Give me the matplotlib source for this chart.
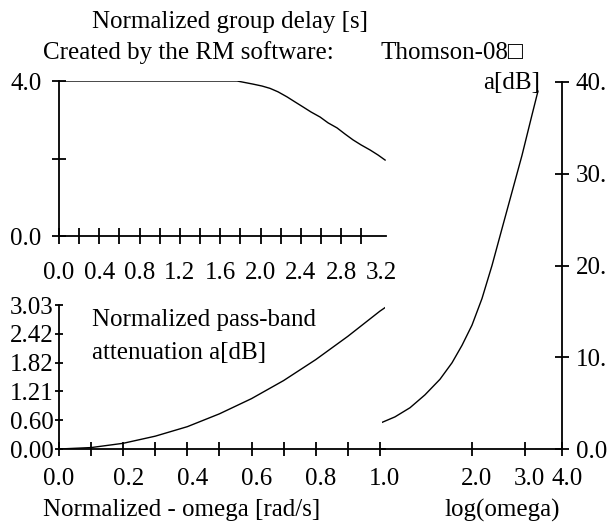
import matplotlib.pyplot as plt
import matplotlib.transforms as mtransforms
import numpy as np

plt.rcParams['font.family'] = ['Liberation Serif', 'DejaVu Sans']
plt.rcParams['font.size'] = 18

# normalized group delay (top panel)
w_delay = [0.0, 0.8, 1.6, 1.767, 1.846, 1.925, 2.015, 2.094, 2.174, 2.263, 2.342, 2.422,
           2.501, 2.591, 2.670, 2.759, 2.839, 2.918, 2.998, 3.087, 3.166, 3.236]
delay = [4.0, 4.0, 4.0, 4.0, 3.96, 3.92, 3.87, 3.81, 3.72, 3.59, 3.46, 3.33,
         3.20, 3.07, 2.92, 2.79, 2.63, 2.48, 2.35, 2.22, 2.09, 1.96]

# pass-band attenuation (bottom left)
w_pass = [0.0, 0.1, 0.2, 0.3, 0.4, 0.5, 0.6, 0.7, 0.8, 0.9, 1.0, 1.028]
a_pass = [0.0, 0.03, 0.12, 0.27, 0.47, 0.74, 1.06, 1.44, 1.88, 2.37, 2.90, 3.03]

# stop-band attenuation, log omega (right)
w_stop = [1.0, 1.105, 1.241, 1.392, 1.563, 1.715, 1.852, 2.0, 2.160, 2.333,
          2.519, 2.721, 2.939, 3.174, 3.324]
a_stop = [2.9, 3.5, 4.5, 5.9, 7.6, 9.4, 11.3, 13.5, 16.4, 20.0,
          24.0, 28.0, 32.0, 36.4, 39.0]

delay_ticks = [0.0, 2.0, 4.0]
delay_labels = ['0.0', '', '4.0']
pass_yticks = [0.0, 0.606, 1.212, 1.818, 2.424, 3.03]
pass_ylabels = ['0.00', '0.60', '1.21', '1.82', '2.42', '3.03']
stop_yticks = [0, 10, 20, 30, 40]
stop_ylabels = ['0.0', '10.', '20.', '30.', '40.']

W, H = 614, 526
fig = plt.figure(figsize=(W / 100, H / 100), dpi=100)


def box(x0, y0, x1, y1):
    # pixel box (origin top-left) -> figure fractions
    return [x0 / W, 1 - y1 / H, (x1 - x0) / W, (y1 - y0) / H]


def ftext(x, y, s, **kw):
    fig.text(x / W, 1 - y / H, s, **kw)


lw_axis = 1.3
lw_curve = 1.0

# ---- top: group delay
ax1 = fig.add_axes(box(59, 81, 386, 236))
ax1.plot(w_delay, delay, color='black', lw=lw_curve)
ax1.set_xlim(0, 3.245)
ax1.set_ylim(0, 4.0)
xt1 = np.arange(0, 3.21, 0.2)
ax1.set_xticks(xt1)
ax1.set_xticklabels(['%.1f' % v if i % 2 == 0 else '' for i, v in enumerate(xt1)])
ax1.tick_params(axis='x', direction='inout', length=11, width=lw_axis, pad=13)
ax1.xaxis.get_major_ticks()[-1].tick1line.set_visible(False)  # no tick at 3.2
ax1.set_yticks(delay_ticks)
ax1.set_yticklabels(delay_labels)
ax1.tick_params(axis='y', direction='inout', length=9.5, width=lw_axis, pad=8)

# ---- bottom left: pass-band
ax2 = fig.add_axes(box(59, 305, 385, 449))
ax2.plot(w_pass, a_pass, color='black', lw=lw_curve)
ax2.set_xlim(0, 1.016)
ax2.set_ylim(0, 3.03)
xt = np.arange(0, 1.01, 0.1)
ax2.set_xticks(xt)
ax2.set_xticklabels(['%.1f' % v if i % 2 == 0 else '' for i, v in enumerate(xt)])
ax2.tick_params(axis='x', direction='inout', length=9.5, width=lw_axis, pad=9)
ax2.set_yticks(pass_yticks)
ax2.set_yticklabels(pass_ylabels)
ax2.tick_params(axis='y', direction='inout', length=6, width=lw_axis, pad=1)

# ---- right: stop-band on log axis
ax3 = fig.add_axes(box(382, 82, 562, 449))
ax3.plot(w_stop, a_stop, color='black', lw=lw_curve)
ax3.set_xscale('log')
ax3.set_xlim(1.0, 4.0)
ax3.set_ylim(0, 40)
ax3.set_xticks([2.0, 3.0, 4.0])
ax3.set_xticklabels(['2.0', '3.0', '4.0'])
ax3.xaxis.set_minor_locator(plt.NullLocator())
ax3.tick_params(axis='x', direction='inout', length=9.5, width=lw_axis, pad=9)
ax3.yaxis.tick_right()
ax3.set_yticks(stop_yticks)
ax3.set_yticklabels(stop_ylabels)
ax3.tick_params(axis='y', direction='inout', length=9.5, width=lw_axis, pad=5)

# bottom x labels sit a little right of their ticks in the original
shift = mtransforms.ScaledTranslation(5 / 100, 0, fig.dpi_scale_trans)
for lab in ax2.get_xticklabels()[1:] + ax3.get_xticklabels():
    lab.set_transform(lab.get_transform() + shift)

for ax in (ax1, ax2, ax3):
    ax.set_facecolor('none')
    ax.spines['top'].set_visible(False)
    for s in ax.spines.values():
        s.set_linewidth(lw_axis)
for ax in (ax1, ax2):
    ax.spines['right'].set_visible(False)
ax3.spines['left'].set_visible(False)

# ---- texts
ftext(230, 22, 'Normalized group delay [s]', ha='center', va='center')
ftext(43, 53, 'Created by the RM software:', ha='left', va='center')
ftext(380, 53, 'Thomson-08\u25a1', ha='left', va='center')
ftext(540, 83, 'a[dB]', ha='right', va='center')
ftext(92, 320, 'Normalized pass-band', ha='left', va='center')
ftext(92, 353, 'attenuation a[dB]', ha='left', va='center')
ftext(43, 510, 'Normalized - omega [rad/s]', ha='left', va='center')
ftext(502, 510, 'log(omega)', ha='center', va='center')

plt.savefig('out.png', dpi=100)
